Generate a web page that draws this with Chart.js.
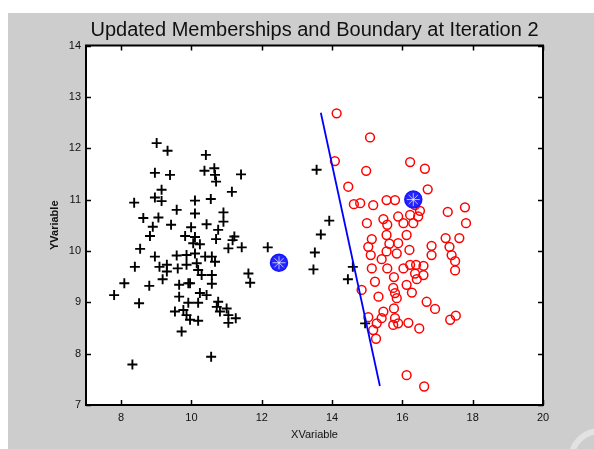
<!DOCTYPE html>
<html>
<head>
<meta charset="utf-8">
<script src="https://cdn.jsdelivr.net/npm/chart.js@4.4.0/dist/chart.umd.min.js"></script>
<style>
  body { margin: 0; background: #fff; }
  #wrap { position: relative; width: 594px; height: 449px; overflow: hidden; }
  #fig { position: absolute; left: 8px; top: 13px; right: 0; bottom: 0; background: #cdcdcd; }
  #ring { position: absolute; left: 568px; top: 428px; width: 52px; height: 52px; border: 6px solid #e2e2e2; border-radius: 50%; }
  canvas { position: absolute; left: 0; top: 0; }
</style>
</head>
<body>
<div id="wrap">
  <div id="fig"></div>
  <div id="ring"></div>
  <canvas id="membershipChart" width="594" height="449"></canvas>
</div>
<script>
// cluster 1 (black +)
const blackX = [9.01, 9.32, 10.41, 8.96, 9.39, 10.37, 10.65, 10.67, 10.70, 11.41,
  11.15, 9.15, 8.96, 9.15, 8.37, 10.10, 10.55, 9.58, 10.91, 10.10,
  8.63, 9.06, 10.91, 9.42, 8.90, 10.43, 9.99, 10.76, 8.82, 9.82,
  10.10, 10.70, 11.22, 11.17, 10.05, 10.24, 11.05, 11.43, 12.17, 8.54,
  8.96, 9.58, 9.86, 10.10, 10.39, 10.58, 10.67, 9.09, 9.30, 9.30,
  8.39, 9.61, 9.86, 10.15, 10.19, 10.29, 10.58, 9.18, 9.91, 10.58,
  11.62, 11.67, 8.09, 8.80, 9.65, 9.96, 7.80, 9.65, 10.24, 10.43,
  10.19, 8.51, 9.91, 10.76, 9.53, 9.77, 9.86, 10.72, 10.81, 11.00,
  11.05, 9.96, 10.19, 11.05, 11.26, 9.72, 10.56, 8.32, 13.56, 13.92,
  13.68, 13.51, 13.47, 14.59, 14.45, 14.94];
const blackY = [12.10, 11.95, 11.87, 11.52, 11.48, 11.56, 11.61, 11.48, 11.35, 11.49,
  11.15, 11.19, 11.04, 10.97, 10.94, 10.98, 11.01, 10.80, 10.75, 10.73,
  10.64, 10.65, 10.57, 10.51, 10.47, 10.52, 10.46, 10.41, 10.29, 10.29,
  10.27, 10.23, 10.28, 10.21, 10.15, 10.13, 10.05, 10.07, 10.07, 10.04,
  9.89, 9.91, 9.92, 9.95, 9.89, 9.89, 9.79, 9.69, 9.73, 9.60,
  9.69, 9.66, 9.73, 9.76, 9.63, 9.53, 9.53, 9.45, 9.37, 9.36,
  9.56, 9.38, 9.37, 9.32, 9.34, 9.37, 9.14, 9.11, 9.18, 9.14,
  8.99, 8.98, 8.99, 9.01, 8.82, 8.85, 8.75, 8.91, 8.82, 8.88,
  8.75, 8.66, 8.64, 8.60, 8.69, 8.43, 7.94, 7.79, 11.58, 10.59,
  10.32, 9.97, 9.64, 9.69, 9.45, 8.59];

// cluster 2 (red o)
const redX = [14.13, 15.08, 14.08, 14.97, 16.22, 16.64, 14.46, 16.72, 14.62, 14.80,
  15.17, 15.55, 15.79, 16.36, 17.29, 17.78, 14.99, 15.46, 15.57, 15.88,
  16.03, 16.22, 16.45, 16.31, 17.81, 15.13, 15.55, 16.12, 15.88, 15.63,
  15.03, 16.20, 16.83, 17.23, 17.62, 17.34, 15.10, 15.55, 15.84, 16.83,
  17.40, 15.41, 17.50, 17.50, 15.13, 15.57, 16.03, 16.22, 16.39, 16.60,
  16.36, 16.60, 15.22, 15.76, 16.41, 14.84, 15.74, 16.12, 15.79, 16.27,
  15.32, 15.84, 16.69, 16.93, 15.46, 15.76, 15.03, 15.41, 15.79, 15.27,
  15.74, 15.88, 16.17, 16.48, 17.36, 17.52, 15.17, 15.25, 16.12, 16.62,
  16.50];
const redY = [12.68, 12.21, 11.75, 11.56, 11.73, 11.60, 11.25, 11.20, 10.91, 10.93,
  10.89, 10.99, 10.99, 10.89, 10.76, 10.85, 10.54, 10.62, 10.51, 10.67,
  10.54, 10.70, 10.67, 10.54, 10.54, 10.23, 10.31, 10.31, 10.15, 10.14,
  10.08, 10.02, 10.10, 10.25, 10.25, 10.08, 9.92, 9.99, 9.95, 9.92,
  9.92, 9.84, 9.80, 9.62, 9.66, 9.66, 9.66, 9.73, 9.73, 9.71,
  9.56, 9.53, 9.40, 9.49, 9.45, 9.24, 9.28, 9.34, 9.18, 9.19,
  9.11, 9.08, 9.01, 8.87, 8.82, 8.88, 8.71, 8.69, 8.69, 8.59,
  8.56, 8.59, 8.60, 8.49, 8.66, 8.74, 8.46, 8.29, 7.58, 7.36,
  10.78];

// cluster centres and decision boundary
const centroidX = [12.49, 16.31];
const centroidY = [9.77, 11.00];
const boundaryX = [13.68, 15.36];
const boundaryY = [12.69, 7.37];

const xTicks = [8, 10, 12, 14, 16, 18, 20];
const yTicks = [7, 8, 9, 10, 11, 12, 13, 14];

const FONT = 'Liberation Sans, Arial, Helvetica, sans-serif';

function toPoints(xs, ys) {
  return xs.map((x, i) => ({ x: x, y: ys[i] }));
}

// white axes box with matlab style inward ticks
const axesBox = {
  id: 'axesBox',
  beforeDraw(chart) {
    const { ctx, chartArea: a } = chart;
    ctx.save();
    ctx.fillStyle = '#fff';
    ctx.fillRect(a.left, a.top, a.right - a.left, a.bottom - a.top);
    ctx.restore();
  },
  afterDatasetsDraw(chart) {
    const { ctx, chartArea: a, scales } = chart;
    const len = 5;
    ctx.save();
    ctx.strokeStyle = '#000';
    ctx.lineWidth = 1.5;
    ctx.beginPath();
    scales.x.ticks.forEach(t => {
      const px = Math.round(scales.x.getPixelForValue(t.value)) + 0.5;
      ctx.moveTo(px, a.bottom); ctx.lineTo(px, a.bottom - len);
      ctx.moveTo(px, a.top); ctx.lineTo(px, a.top + len);
    });
    scales.y.ticks.forEach(t => {
      const py = Math.round(scales.y.getPixelForValue(t.value)) + 0.5;
      ctx.moveTo(a.left, py); ctx.lineTo(a.left + len, py);
      ctx.moveTo(a.right, py); ctx.lineTo(a.right - len, py);
    });
    ctx.stroke();
    ctx.lineWidth = 2;
    ctx.strokeRect(a.left, a.top, a.right - a.left, a.bottom - a.top);
    ctx.restore();
  }
};

const ctx = document.getElementById('membershipChart').getContext('2d');
new Chart(ctx, {
  type: 'scatter',
  data: {
    datasets: [
      {
        label: 'Boundary',
        type: 'line',
        data: toPoints(boundaryX, boundaryY),
        borderColor: '#0000ff',
        borderWidth: 1.8,
        pointRadius: 0,
        fill: false,
        order: 1,
      },
      {
        label: 'Centroid star',
        data: toPoints(centroidX, centroidY),
        pointStyle: 'star',
        pointRadius: 6.5,
        borderColor: 'rgba(255,255,255,0.7)',
        borderWidth: 1,
        order: 0,
      },
      {
        label: 'Centroids',
        data: toPoints(centroidX, centroidY),
        pointStyle: 'circle',
        pointRadius: 8.5,
        backgroundColor: '#2323ff',
        borderColor: '#1515ff',
        borderWidth: 1.5,
        order: 2,
      },
      {
        label: 'Cluster 1',
        data: toPoints(blackX, blackY),
        pointStyle: 'cross',
        pointRadius: 5,
        borderColor: '#000',
        borderWidth: 1.9,
        order: 3,
      },
      {
        label: 'Cluster 2',
        data: toPoints(redX, redY),
        pointStyle: 'circle',
        pointRadius: 4.4,
        backgroundColor: 'rgba(0,0,0,0)',
        borderColor: '#ff0000',
        borderWidth: 1.5,
        order: 4,
      },
    ],
  },
  options: {
    responsive: false,
    animation: false,
    layout: { padding: { left: 0, right: 51, top: 0, bottom: 0 } },
    plugins: {
      legend: { display: false },
      tooltip: { enabled: false },
      title: {
        display: true,
        fullSize: false,
        text: 'Updated Memberships and Boundary at Iteration 2',
        color: '#111',
        font: { family: FONT, size: 20, weight: 'normal' },
        padding: { top: 18, bottom: 3.5 },
      },
    },
    scales: {
      x: {
        type: 'linear',
        min: 7,
        max: 20,
        afterBuildTicks: s => { s.ticks = xTicks.map(v => ({ value: v })); },
        afterFit: s => { s.height = 44; },
        grid: { display: false, drawTicks: false },
        border: { display: false },
        ticks: { color: '#111', padding: 6, font: { family: FONT, size: 11 } },
        title: {
          display: true,
          text: 'XVariable',
          color: '#111',
          font: { family: FONT, size: 11 },
          padding: { top: 0, bottom: 7 },
        },
      },
      y: {
        type: 'linear',
        min: 7,
        max: 14,
        afterBuildTicks: s => { s.ticks = yTicks.map(v => ({ value: v })); },
        afterFit: s => { s.width = 86; },
        grid: { display: false, drawTicks: false },
        border: { display: false },
        ticks: { color: '#111', padding: 5, font: { family: FONT, size: 11 } },
        title: {
          display: true,
          text: 'YVariable',
          color: '#111',
          font: { family: FONT, size: 11, weight: 'bold' },
          padding: { top: 48, bottom: 0 },
        },
      },
    },
  },
  plugins: [axesBox],
});
</script>
</body>
</html>
